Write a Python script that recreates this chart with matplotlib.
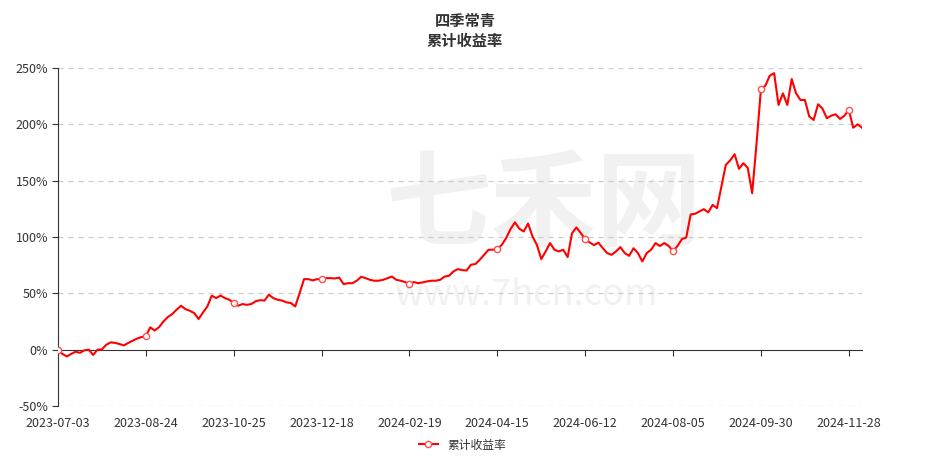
import numpy as np
import matplotlib
matplotlib.use('Agg')
import matplotlib.pyplot as plt

plt.rcParams['font.family'] = ['Noto Sans CJK SC', 'DejaVu Sans']

# cumulative return (%)
returns = [
    0, -3.8, -6, -3.8, -1.8, -2.8, -0.6, 0, -4.7, 0,
    0.3, 4.4, 6.5, 6, 5, 3.8, 6, 8, 9.8, 11.2,
    12.2, 19.8, 17, 20, 25, 29, 31.6, 35.5, 39, 36,
    34.5, 32.5, 27.2, 33, 38.4, 47.9, 45.8, 48, 45.8, 44.3,
    41.4, 39, 40.5, 39.8, 40.5, 43, 43.9, 43.6, 48.8, 45.8,
    44.3, 43.6, 42, 41.4, 38.4, 50.2, 62.6, 62.6, 61.5, 62.6,
    62.3, 63.5, 63.5, 63.2, 64, 58.2, 59, 59, 61.2, 64.7,
    63.5, 62, 61.2, 61.2, 62, 63.5, 64.9, 62, 61.2, 60,
    58.5, 60, 59, 59.7, 60.6, 61.2, 61.2, 62, 64.9, 65.6,
    69.4, 71.5, 70.6, 70.3, 75.4, 76, 79.8, 84.2, 88.7, 88.7,
    89.4, 93, 99, 107, 113, 107.4, 104.9, 112, 100.5, 93,
    80.4, 87.2, 94.6, 88.7, 87.2, 88.7, 82.2, 103.4, 108.5, 103.4,
    98, 95.2, 92.8, 95, 90.1, 85.7, 84.2, 87.2, 91, 85.7,
    83.3, 90, 85.7, 78.3, 85.7, 88.7, 94.6, 92, 94.6, 92,
    87.5, 92, 98.1, 99.6, 120, 120.6, 122.6, 124.7, 121.8, 128.5,
    125.6, 144.8, 164, 168, 173.5, 160.5, 165.5, 161.3, 138.9, 183.2,
    231.5, 234.3, 243.2, 245.4, 217.2, 227.5, 217.2, 240.2, 227.5, 221.6,
    221.6, 206.9, 203.9, 217.8, 214, 205.4, 207.7, 208.9, 204.8, 207.7,
    212.8, 197, 200, 197,
]
tick_labels = ['2023-07-03', '2023-08-24', '2023-10-25', '2023-12-18', '2024-02-19',
               '2024-04-15', '2024-06-12', '2024-08-05', '2024-09-30', '2024-11-28']
tick_step = 20
y_ticks = [-50, 0, 50, 100, 150, 200, 250]

x = np.arange(len(returns))
tick_pos = np.arange(len(tick_labels)) * tick_step

fig = plt.figure(figsize=(9.3, 4.65), dpi=100)
ax = fig.add_axes([58/930, 1-406/465, (862-58)/930, (406-68)/465])

# watermark, kept behind the line
ax.text(0.585, 0.555, '七禾网', fontsize=76, color='#f1f1f1', ha='center', va='center',
        fontweight='bold', transform=fig.transFigure, zorder=0)
ax.text(0.565, 0.365, 'www.7hcn.com', fontsize=26, color='#f1f1f1', ha='center', va='center',
        transform=fig.transFigure, zorder=0)

ax.plot(x, returns, color='#ff0000', lw=1.5, marker='o', markevery=list(tick_pos),
        markersize=4.5, markerfacecolor='white', markeredgecolor='#ff5050',
        markeredgewidth=1, label='累计收益率', zorder=3)

ax.set_xlim(0, len(returns) - 1)
ax.set_ylim(-50, 250)
ax.set_yticks(y_ticks)
ax.set_yticklabels(['{}%'.format(v) for v in y_ticks], fontsize=9, color='#333333')
for v in y_ticks:
    if v != 0:
        ax.axhline(v, color='#cccccc', lw=0.9, ls=(0, (4, 4)), zorder=1)

ax.patch.set_alpha(0)
for s in ['top', 'right']:
    ax.spines[s].set_visible(False)
ax.spines['left'].set_color('#333333')
ax.spines['bottom'].set_position(('data', 0))
ax.spines['bottom'].set_color('#333333')
ax.set_xticks(tick_pos)
ax.tick_params(axis='x', labelbottom=False, length=4, color='#333333')
ax.tick_params(axis='y', length=4, color='#333333', pad=3)

sec = ax.secondary_xaxis(0.0)
sec.set_xticks(tick_pos)
sec.set_xticklabels(tick_labels, fontsize=9, color='#333333')
sec.tick_params(length=0, pad=8)
sec.spines['bottom'].set_visible(False)

fig.text(0.5, 0.955, '四季常青', fontsize=11, fontweight='bold', ha='center', va='center', color='#333333')
fig.text(0.5, 0.912, '累计收益率', fontsize=11, fontweight='bold', ha='center', va='center', color='#333333')

fig.legend(loc='center', bbox_to_anchor=(0.497, 0.043), frameon=False, fontsize=8.5,
           handlelength=1.6, labelcolor='#333333')

plt.savefig('out.png', dpi=100)
